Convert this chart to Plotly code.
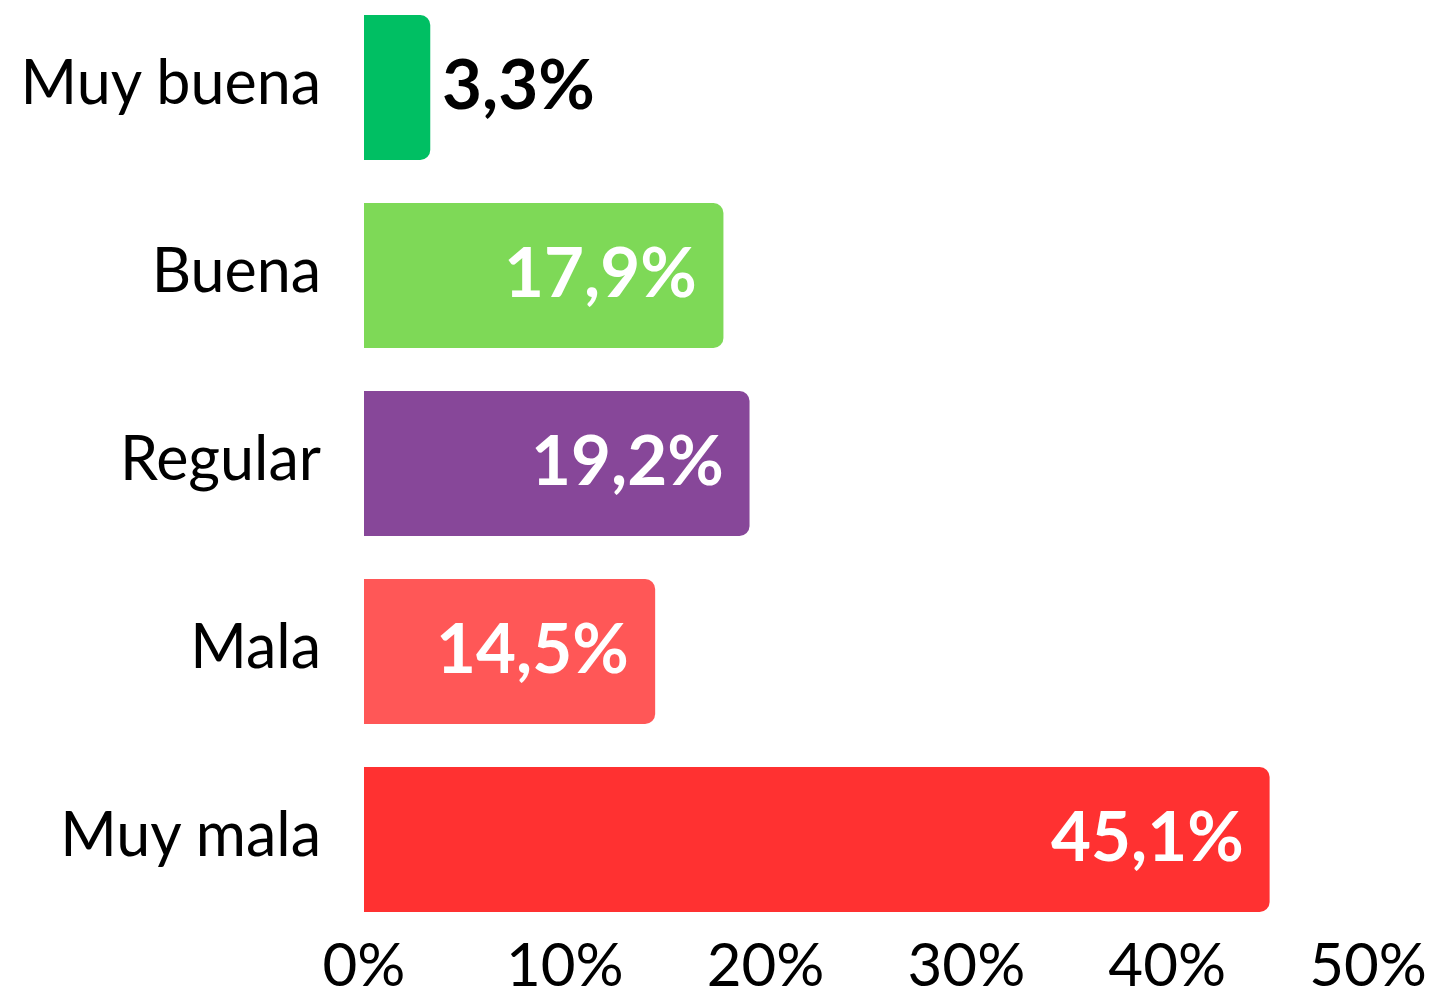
import plotly.graph_objects as go

categories = ["Muy buena", "Buena", "Regular", "Mala", "Muy mala"]
values = [3.3, 17.9, 19.2, 14.5, 45.1]
labels = ["3,3%", "17,9%", "19,2%", "14,5%", "45,1%"]
colors = ["#00BF63", "#7ED957", "#874799", "#FF5757", "#FF3131"]
inside = [False, True, True, True, True]
tick_vals = [0, 10, 20, 30, 40, 50]
tick_text = ["0%", "10%", "20%", "30%", "40%", "50%"]

fig = go.Figure(go.Bar(
    x=values, y=categories, orientation="h",
    marker=dict(color=colors, line=dict(width=0), cornerradius=10),
    hoverinfo="skip",
))

for c, v, t, ins in zip(categories, values, labels, inside):
    fig.add_annotation(
        x=v, y=c, text=t, showarrow=False,
        xanchor="right" if ins else "left",
        xshift=-24 if ins else 10, yshift=5,
        font=dict(family="Lato", size=69, color="white" if ins else "black", weight="bold"),
    )

fig.update_layout(
    width=1434, height=990,
    margin=dict(l=364, r=66, t=0, b=60, autoexpand=False),
    paper_bgcolor="white", plot_bgcolor="white",
    bargap=0.229, showlegend=False,
    font=dict(family="Lato", color="black"),
    xaxis=dict(range=[0, 50], tickvals=tick_vals, ticktext=tick_text,
               showgrid=False, zeroline=False, showline=False, ticks="",
               automargin=False, ticklabelstandoff=-5,
               tickfont=dict(size=60, family="Lato"), fixedrange=True),
    yaxis=dict(type="category", categoryorder="array", categoryarray=categories,
               range=[4.4814, -0.4654], showgrid=False, zeroline=False,
               showline=False, ticks="", ticklabelstandoff=42, ticklabelshift=5,
               automargin=False,
               tickfont=dict(size=61, family="Lato"), fixedrange=True),
)

fig.write_html("out.html", config={"displayModeBar": False},
               post_script="document.body.style.margin='0';")
